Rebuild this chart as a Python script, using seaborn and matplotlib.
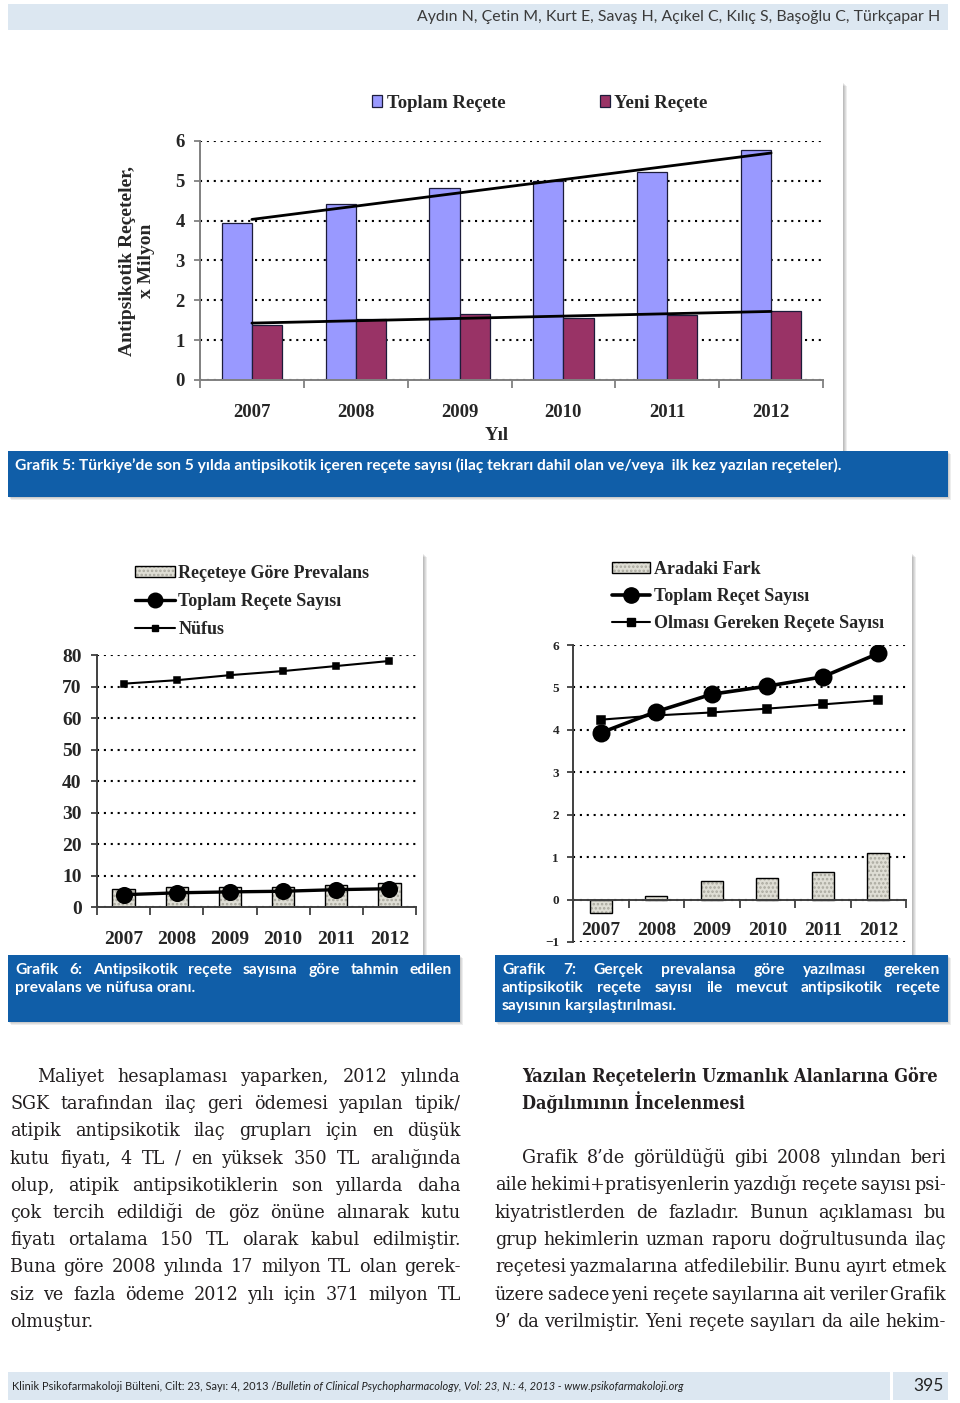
import numpy as np
import pandas as pd
import matplotlib
matplotlib.use("Agg")
import matplotlib.pyplot as plt
from matplotlib import font_manager
import seaborn as sns
from matplotlib.patches import Rectangle, Patch
from matplotlib.lines import Line2D

# --- veriler ---
yillar = ["2007", "2008", "2009", "2010", "2011", "2012"]

# Grafik 5 (x milyon)
toplam_recete = [3.95, 4.42, 4.83, 5.00, 5.22, 5.77]
yeni_recete = [1.37, 1.52, 1.65, 1.55, 1.62, 1.74]

# Grafik 6
prevalans = [5.7, 6.2, 6.5, 6.5, 7.0, 7.5]
toplam_sayi = [3.9, 4.5, 4.8, 5.0, 5.5, 5.8]
nufus = [70.9, 72.0, 73.6, 74.9, 76.5, 78.1]

# Grafik 7
gercek_toplam = [3.93, 4.43, 4.84, 5.03, 5.25, 5.80]
olmasi_gereken = [4.24, 4.34, 4.41, 4.50, 4.60, 4.70]
aradaki_fark = [-0.31, 0.09, 0.43, 0.52, 0.64, 1.09]

ust_bilgi = "Aydın N, Çetin M, Kurt E, Savaş H, Açıkel C, Kılıç S, Başoğlu C, Türkçapar H"
alt_bilgi_1 = "Klinik Psikofarmakoloji Bülteni, Cilt: 23, Sayı: 4, 2013 /"
alt_bilgi_2 = "Bulletin of Clinical Psychopharmacology, Vol: 23, N.: 4, 2013 - www.psikofarmakoloji.org"

baslik_5 = "Grafik 5: Türkiye’de son 5 yılda antipsikotik içeren reçete sayısı (ilaç tekrarı dahil olan ve/veya  ilk kez yazılan reçeteler)."
baslik_6 = ["Grafik 6: Antipsikotik reçete sayısına göre tahmin edilen",
            "prevalans  ve nüfusa oranı."]
baslik_7 = ["Grafik 7: Gerçek prevalansa göre  yazılması gereken",
            "antipsikotik reçete sayısı ile mevcut antipsikotik reçete",
            "sayısının karşılaştırılması."]

sol_satirlar = [
    "Maliyet hesaplaması yaparken, 2012 yılında",
    "SGK tarafından ilaç geri ödemesi yapılan tipik/",
    "atipik antipsikotik ilaç grupları için en düşük",
    "kutu fiyatı, 4 TL / en yüksek 350 TL aralığında",
    "olup, atipik antipsikotiklerin son yıllarda daha",
    "çok tercih edildiği de göz önüne alınarak kutu",
    "fiyatı ortalama 150 TL olarak kabul edilmiştir.",
    "Buna göre 2008 yılında 17 milyon TL olan gerek-",
    "siz ve fazla ödeme 2012 yılı için 371 milyon TL",
    "olmuştur.",
]
sag_baslik = ["Yazılan Reçetelerin Uzmanlık Alanlarına Göre", "Dağılımının İncelenmesi"]
sag_satirlar = [
    "Grafik 8’de görüldüğü gibi 2008 yılından beri",
    "aile hekimi+pratisyenlerin yazdığı reçete sayısı psi-",
    "kiyatristlerden de fazladır. Bunun açıklaması bu",
    "grup hekimlerin uzman raporu doğrultusunda ilaç",
    "reçetesi yazmalarına atfedilebilir. Bunu ayırt etmek",
    "üzere sadece yeni reçete sayılarına ait veriler Grafik",
    "9’ da verilmiştir. Yeni reçete sayıları da aile hekim-",
]

# renkler
MAVI = "#105ea8"
ACIK = "#dce7f1"
BAR_MAVI = "#9999ff"
BAR_BORDO = "#993366"
GRI_BAR = "#dfded5"
TARAMA = "#a9a89e"

sns.set_style("ticks")
plt.rcParams.update({"font.family": ["Liberation Serif", "DejaVu Serif"],
                     "font.weight": "bold", "hatch.linewidth": 1.2})

# govde metni icin dar serif varsa onu kullan
fontlar = font_manager.fontManager.ttflist
if any(f.name == "DejaVu Serif Condensed" for f in fontlar):
    GOVDE = dict(family="DejaVu Serif Condensed")
elif any(f.name == "DejaVu Serif" and f.stretch == "condensed" for f in fontlar):
    GOVDE = dict(family="DejaVu Serif", fontstretch="condensed")
else:
    GOVDE = dict(family="DejaVu Serif")

W, H = 960, 1403
fig = plt.figure(figsize=(W / 100, H / 100), dpi=100)
fig.patch.set_facecolor("white")
renderer = fig.canvas.get_renderer()


def fx(x):
    return x / W


def fy(y):
    return 1 - y / H


def olc(s, size, **kw):
    t = fig.text(0, 0, s, fontsize=size, **kw)
    w = t.get_window_extent(renderer).width
    t.remove()
    return w


def sigdir(s, genislik, **kw):
    return 10 * genislik / olc(s, 10, **kw)


def yasli_boyut(satirlar, araliklar, oran=0.6, **kw):
    # iki yana yaslanan satirlar icin ortak yazi boyutu
    bosluk = olc("a a", 10, **kw) - olc("aa", 10, **kw)
    boyut = 99
    for s, (x0, x1) in zip(satirlar, araliklar):
        kel = s.split()
        ww = sum(olc(k, 10, **kw) for k in kel)
        boyut = min(boyut, 10 * (x1 - x0) / (ww + oran * (len(kel) - 1) * bosluk))
    return boyut


def satir(s, x0, x1, y, size, yasla=True, **kw):
    kel = s.split()
    ws = [olc(k, size, **kw) for k in kel]
    if yasla and len(kel) > 1:
        ara = (x1 - x0 - sum(ws)) / (len(kel) - 1)
    else:
        ara = olc("a a", size, **kw) - olc("aa", size, **kw)
    x = x0
    for k, wd in zip(kel, ws):
        fig.text(fx(x), fy(y), k, fontsize=size, va="baseline", ha="left", **kw)
        x += wd + ara


def kutu(x0, y0, x1, y1, renk="white", golge=4, z=-2):
    for i in range(golge, 0, -1):
        fig.add_artist(Rectangle((fx(x0 + i), fy(y1 + i)), (x1 - x0) / W, (y1 - y0) / H,
                                 transform=fig.transFigure, facecolor="black",
                                 alpha=0.07, edgecolor="none", zorder=z))
    fig.add_artist(Rectangle((fx(x0), fy(y1)), (x1 - x0) / W, (y1 - y0) / H,
                             transform=fig.transFigure, facecolor=renk,
                             edgecolor="none", zorder=z))


def eksen(left, top, right, bottom):
    ax = fig.add_axes([fx(left), fy(bottom), (right - left) / W, (bottom - top) / H])
    ax.set_facecolor("none")
    return ax


def duzenle(ax, spine_renk, ysize, xsize, xpad, ypad):
    ax.spines[["top", "right"]].set_visible(False)
    for s in ("left", "bottom"):
        ax.spines[s].set_color(spine_renk)
        ax.spines[s].set_linewidth(1.4)
    ax.yaxis.grid(True, color="black", linestyle=(0, (1, 2.3)), linewidth=1.5)
    ax.xaxis.grid(False)
    ax.set_axisbelow(True)
    ax.set_xlim(-0.5, len(yillar) - 0.5)
    ax.set_xticks(np.arange(len(yillar)))
    ax.set_xticklabels(yillar)
    ax.set_xticks(np.arange(-0.5, len(yillar)), minor=True)
    ax.tick_params(axis="x", which="major", length=0, pad=xpad, labelsize=xsize)
    ax.tick_params(axis="x", which="minor", length=6, width=1.3, color=spine_renk)
    ax.tick_params(axis="y", length=4, width=1.3, color=spine_renk, pad=ypad, labelsize=ysize)
    ax.set_xlabel("")
    ax.set_ylabel("")


def tarama(ax):
    # noktali dolgu gri, cubuk kenari siyah
    for p in list(ax.patches):
        p.set_hatch("....")
        p.set_edgecolor(TARAMA)
        p.set_linewidth(0)
        ax.add_patch(Rectangle(p.get_xy(), p.get_width(), p.get_height(), fill=False,
                               edgecolor="black", linewidth=1.0, zorder=p.get_zorder()))


def tarama_lejant(etiket):
    return (Patch(facecolor=GRI_BAR, edgecolor=TARAMA, hatch="....", linewidth=0),
            Patch(facecolor="none", edgecolor="black", linewidth=1.0)), etiket


# --- sayfa zemini: ust bilgi, paneller, alt bilgi ---
kutu(8, 4, 948, 30, ACIK, golge=0)
boy = sigdir(ust_bilgi, 529, family="Lato")
fig.text(fx(940), fy(21.5), ust_bilgi, fontsize=boy, family="Lato", fontweight="normal",
         color="#3a3a3a", ha="right", va="baseline")

kutu(108, 82, 843, 452)
kutu(40, 553, 423, 957)
kutu(528, 553, 912, 957)
kutu(8, 451, 948, 497, MAVI, golge=3, z=-1)
kutu(8, 955, 460, 1022, MAVI, golge=3, z=-1)
kutu(495, 955, 948, 1022, MAVI, golge=3, z=-1)

# --- Grafik 5 ---
ax1 = eksen(200, 141, 823, 380)
df5 = pd.DataFrame({"Yıl": yillar * 2,
                    "Değer": toplam_recete + yeni_recete,
                    "Seri": ["Toplam Reçete"] * 6 + ["Yeni Reçete"] * 6})
sns.barplot(data=df5, x="Yıl", y="Değer", hue="Seri", palette=[BAR_MAVI, BAR_BORDO],
            saturation=1, width=0.58, gap=0, edgecolor="#1c1c3a", linewidth=0.9, ax=ax1)
xs = np.arange(len(yillar))
for seri in (toplam_recete, yeni_recete):
    k = np.polyfit(xs, seri, 1)  # dogrusal egilim cizgisi
    ax1.plot(xs[[0, -1]], np.polyval(k, xs[[0, -1]]), color="black", lw=2.0, zorder=3)
ax1.set_ylim(0, 6)
ax1.set_yticks(range(7))
duzenle(ax1, "#808080", 13.5, 13.5, 17, 7)
tutamak, etiket = ax1.get_legend_handles_labels()
ax1.legend(tutamak, etiket, ncol=2, loc="center", bbox_to_anchor=(fx(540), fy(103)),
           bbox_transform=fig.transFigure, frameon=False, fontsize=13.5,
           handlelength=0.55, handleheight=0.6, handletextpad=0.25, columnspacing=5.0,
           borderpad=0)
ax1.set_ylabel("Antipsikotik Reçeteler,\nx Milyon", fontsize=14, fontweight="bold",
               va="center", ha="center", multialignment="center")
ax1.yaxis.set_label_coords((137 - 200) / 623, 0.5)
ax1.set_xlabel("Yıl", fontsize=13.5, fontweight="bold", va="center")
ax1.xaxis.set_label_coords((497 - 200) / 623, -(435 - 380) / 239)

kw_b = dict(family="Lato", fontweight="bold", color="white")
boy_b = sigdir(baslik_5, 830, family="Lato", fontweight="bold")
fig.text(fx(15), fy(470), baslik_5, fontsize=boy_b, va="baseline", **kw_b)

# --- Grafik 6 ---
ax2 = eksen(97, 655, 416, 907)
sns.barplot(x=yillar, y=prevalans, color=GRI_BAR, saturation=1, width=0.42,
            edgecolor="black", linewidth=1.0, ax=ax2)
tarama(ax2)
sns.pointplot(x=yillar, y=toplam_sayi, color="black", markers="o", markersize=10.5,
              linewidth=2.4, errorbar=None, ax=ax2)
sns.pointplot(x=yillar, y=nufus, color="black", markers="s", markersize=5,
              linewidth=1.5, errorbar=None, ax=ax2)
ax2.set_ylim(0, 80)
ax2.set_yticks(range(0, 81, 10))
duzenle(ax2, "#404040", 14, 14, 17, 7)
h6, e6 = tarama_lejant("Reçeteye Göre Prevalans")
ax2.legend(handles=[h6,
                    Line2D([], [], color="black", marker="o", markersize=10.5, lw=2.4),
                    Line2D([], [], color="black", marker="s", markersize=5, lw=1.5)],
           labels=[e6, "Toplam Reçete Sayısı", "Nüfus"],
           loc="upper left", bbox_to_anchor=(fx(135), fy(565)), bbox_transform=fig.transFigure,
           frameon=False, fontsize=13, handlelength=2.2, handleheight=0.6,
           handletextpad=0.2, labelspacing=0.62, borderpad=0, borderaxespad=0)

# --- Grafik 7 ---
ax3 = eksen(573, 645, 906, 942)
sns.barplot(x=yillar, y=aradaki_fark, color=GRI_BAR, saturation=1, width=0.4,
            edgecolor="black", linewidth=1.0, ax=ax3)
tarama(ax3)
sns.pointplot(x=yillar, y=gercek_toplam, color="black", markers="o", markersize=11,
              linewidth=2.6, errorbar=None, ax=ax3)
sns.pointplot(x=yillar, y=olmasi_gereken, color="black", markers="s", markersize=5.5,
              linewidth=1.5, errorbar=None, ax=ax3)
ax3.set_ylim(-1, 6)
ax3.set_yticks(range(-1, 7))
duzenle(ax3, "#404040", 9.5, 14, 16, 6)
ax3.spines["bottom"].set_position(("data", 0))
h7, e7 = tarama_lejant("Aradaki Fark")
ax3.legend(handles=[h7,
                    Line2D([], [], color="black", marker="o", markersize=11, lw=2.6),
                    Line2D([], [], color="black", marker="s", markersize=5.5, lw=1.5)],
           labels=[e7, "Toplam Reçet Sayısı", "Olması Gereken Reçete Sayısı"],
           loc="upper left", bbox_to_anchor=(fx(612), fy(561)), bbox_transform=fig.transFigure,
           frameon=False, fontsize=13, handlelength=2.1, handleheight=0.6,
           handletextpad=0.25, labelspacing=0.55, borderpad=0, borderaxespad=0)

# --- grafik alt yazilari ---
satir(baslik_6[0], 15, 452, 974, boy_b, **kw_b)
satir(baslik_6[1], 15, 452, 992, boy_b, yasla=False, **kw_b)
satir(baslik_7[0], 502, 940, 974, boy_b, **kw_b)
satir(baslik_7[1], 502, 940, 992, boy_b, **kw_b)
satir(baslik_7[2], 502, 940, 1010, boy_b, yasla=False, **kw_b)

# --- metin sutunlari ---
kw_m = dict(GOVDE, fontweight="normal", color="#231f20")
sol_ara = [(37, 461)] + [(10, 461)] * (len(sol_satirlar) - 1)
sag_ara = [(522, 946)] + [(495, 946)] * (len(sag_satirlar) - 1)
boy = yasli_boyut(sol_satirlar[:-1] + sag_satirlar, sol_ara[:-1] + sag_ara, oran=0.4,
                  fontweight="normal", **GOVDE)
boy = min(boy, 14.0)
for i, (s, (a, b)) in enumerate(zip(sol_satirlar, sol_ara)):
    satir(s, a, b, 1082 + i * 27.2, boy, yasla=i < len(sol_satirlar) - 1, **kw_m)
for i, (s, (a, b)) in enumerate(zip(sag_satirlar, sag_ara)):
    satir(s, a, b, 1163 + i * 27.3, boy, **kw_m)

kw_h = dict(GOVDE, fontweight="bold", color="#231f20")
boy_h = sigdir(sag_baslik[0], 418, fontweight="bold", **GOVDE)
fig.text(fx(522), fy(1082), sag_baslik[0], fontsize=boy_h, va="baseline", **kw_h)
fig.text(fx(522), fy(1109), sag_baslik[1], fontsize=boy_h, va="baseline", **kw_h)

# --- alt bilgi ---
kutu(8, 1372, 890, 1400, ACIK, golge=0)
kutu(893, 1372, 948, 1400, ACIK, golge=0)
kw_a = dict(family="Lato", fontweight="normal")
w1 = olc(alt_bilgi_1, 10, **kw_a)
w2 = olc(alt_bilgi_2, 10, style="italic", **kw_a)
bosluk = olc("a a", 10, **kw_a) - olc("aa", 10, **kw_a)
boy = 10 * 669 / (w1 + w2 + bosluk)
fig.text(fx(12), fy(1389.5), alt_bilgi_1, fontsize=boy, color="#222222", va="baseline", **kw_a)
fig.text(fx(12 + (w1 + bosluk) * boy / 10), fy(1389.5), alt_bilgi_2, fontsize=boy,
         style="italic", color="#222222", va="baseline", **kw_a)
fig.text(fx(928), fy(1391), "395", fontsize=12.5, color="#222222", ha="center",
         va="baseline", **kw_a)

fig.savefig("out.png", dpi=100, facecolor="white")
